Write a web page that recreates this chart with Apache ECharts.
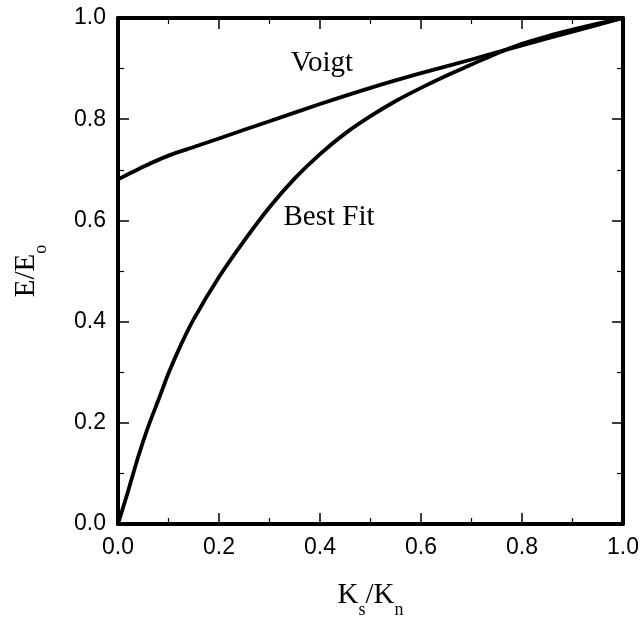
<!DOCTYPE html>
<html>
<head>
<meta charset="utf-8">
<script src="https://cdn.jsdelivr.net/npm/echarts@6/dist/echarts.min.js"></script>
<style>
html,body{margin:0;padding:0;background:#fff;}
#chart{width:641px;height:618px;}
</style>
</head>
<body>
<div id="chart"></div>
<script>
var voigtX = [0, 0.05, 0.1, 0.15, 0.2, 0.3, 0.4, 0.5, 0.6, 0.7, 0.8, 0.9, 1.0];
var voigtY = [0.681, 0.706, 0.728, 0.745, 0.762, 0.796, 0.830, 0.862, 0.891, 0.918, 0.946, 0.973, 1.0];

var fitX = [0, 0.02, 0.04, 0.06, 0.08, 0.1, 0.125, 0.15, 0.2, 0.25, 0.3, 0.35, 0.4, 0.45, 0.5, 0.55, 0.6, 0.65, 0.7, 0.75, 0.8, 0.85, 0.9, 0.95, 1.0];
var fitY = [0, 0.065, 0.133, 0.193, 0.245, 0.298, 0.355, 0.405, 0.488, 0.560, 0.626, 0.683, 0.731, 0.772, 0.806, 0.836, 0.862, 0.886, 0.908, 0.930, 0.949, 0.964, 0.977, 0.989, 1.0];

var tickLabels = ['0.0', '0.2', '0.4', '0.6', '0.8', '1.0'];

function pairs(xs, ys) { return xs.map(function (x, i) { return [x, ys[i]]; }); }

var chart = echarts.init(document.getElementById('chart'));
var labelFont = { fontFamily: '"Liberation Sans", Arial, sans-serif', fontSize: 23, color: '#000' };
var serif = '"Liberation Serif", "Times New Roman", serif';

function fmt(v) {
  var s = v.toFixed(1);
  return tickLabels.indexOf(s) >= 0 ? s : '';
}

function axisBase(pos, showLabel) {
  return {
    type: 'value', min: 0, max: 1, interval: 0.2, position: pos,
    axisLine: { show: true, onZero: false, lineStyle: { color: '#000', width: 4 } },
    axisTick: { show: true, inside: true, length: 11, lineStyle: { color: '#000', width: 1.5 } },
    minorTick: { show: true, splitNumber: 2, length: 6, lineStyle: { color: '#000', width: 1.2 } },
    splitLine: { show: false },
    minorSplitLine: { show: false },
    axisLabel: Object.assign({ show: showLabel, formatter: fmt, margin: 12 }, labelFont)
  };
}

var richTitle = {
  k: { fontFamily: serif, fontSize: 29, color: '#000', lineHeight: 48 },
  s: { fontFamily: serif, fontSize: 18, color: '#000', lineHeight: 1, verticalAlign: 'bottom' }
};

var xBottom = axisBase('bottom', true);
xBottom.name = '{k|K}{s|s}{k|/K}{s|n}';
xBottom.nameLocation = 'middle';
xBottom.nameGap = 47;
xBottom.nameTextStyle = { rich: richTitle };
var xTop = axisBase('top', false);

var yLeft = axisBase('left', true);
yLeft.name = '{k|E/E}{s|o}';
yLeft.nameLocation = 'middle';
yLeft.nameRotate = 90;
yLeft.nameGap = 68;
yLeft.nameTextStyle = { rich: richTitle };
var yRight = axisBase('right', false);

var lineStyle = { color: '#000', width: 3.8 };

chart.setOption({
  animation: false,
  backgroundColor: '#fff',
  grid: { left: 118, right: 18, top: 18, bottom: 94, containLabel: false, outerBoundsMode: 'none' },
  xAxis: [xBottom, xTop],
  yAxis: [yLeft, yRight],
  series: [
    { name: 'Voigt', type: 'line', xAxisIndex: 0, yAxisIndex: 0, data: pairs(voigtX, voigtY),
      showSymbol: false, smooth: 0.25, lineStyle: lineStyle, z: 3 },
    { name: 'Best Fit', type: 'line', xAxisIndex: 0, yAxisIndex: 0, data: pairs(fitX, fitY),
      showSymbol: false, smooth: 0.25, lineStyle: lineStyle, z: 3 }
  ],
  graphic: [
    { type: 'text', x: 322, y: 63,
      style: { text: 'Voigt', font: '29px ' + serif, fill: '#000', textAlign: 'center', textVerticalAlign: 'middle', align: 'center', verticalAlign: 'middle' } },
    { type: 'text', x: 329, y: 217,
      style: { text: 'Best Fit', font: '29px ' + serif, fill: '#000', textAlign: 'center', textVerticalAlign: 'middle', align: 'center', verticalAlign: 'middle' } }
  ]
});
</script>
</body>
</html>
